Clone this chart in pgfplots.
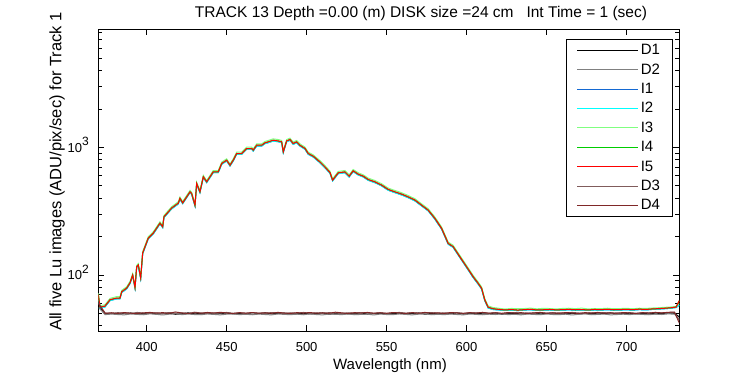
\documentclass[border=0pt]{standalone}
\usepackage{fontspec}
\setmainfont{Liberation Sans}
\usepackage{pgfplots}
\pgfplotsset{compat=1.18}
\usepackage{pgfplotstable}
\definecolor{cD2}{RGB}{128,128,128}
\definecolor{cI1}{RGB}{20,105,210}
\definecolor{cI2}{RGB}{0,255,255}
\definecolor{cI3}{RGB}{128,255,128}
\definecolor{cI4}{RGB}{0,205,0}
\definecolor{cI5}{RGB}{255,0,0}
\definecolor{cD3}{RGB}{128,92,92}
\definecolor{cD4}{RGB}{128,40,40}

% I curves: lo (I1, I2), mid (I4, I5), hi (I3)
\pgfplotstableread{
nm lo mid hi
369.75 69 70 72
370.8 55.2 56 57.4
373.9 56.1 57 58.4
377.1 63 64 65.6
381.25 65 66 67.7
383.3 65 66 67.7
384.4 72.9 74 75.8
387.5 77.8 79 81
389.6 85.7 87 89.2
391.25 98.5 100 102.5
392.7 78.8 80 82
393.75 114.3 116 118.9
394.75 118.2 120 123
396.25 93.6 95 97.4
397.5 146.8 149 152.7
401 192.1 195 199.9
404.1 209.8 213 218.3
408.3 251.2 255 261.4
410 235.4 239 245
410.8 281.7 286 293.2
415.6 330 335 343.4
419.75 360.5 366 375.2
420.8 393 399 409
422.5 362.5 368 377.2
425 403.9 410 420.3
427.1 442.3 449 460.2
428.1 429.5 436 446.9
430.2 347.7 353 361.8
431.25 514.2 522 535
433.3 442.3 449 460.2
435.4 580.2 589 603.7
437.5 529.9 538 551.5
439.6 580.2 589 603.7
441.6 634.3 644 660.1
444.75 634.3 644 660.1
446.9 738.8 750 768.8
450 783.1 795 814.9
452.1 715.1 726 744.2
454.1 783.1 795 814.9
456.25 883.5 897 919.4
459.4 883.5 897 919.4
462.5 967.3 982 1006.6
465.6 967.3 982 1006.6
466.6 937.7 952 975.8
468.75 1026.4 1042 1068
471.9 1026.4 1042 1068
473.9 1070.7 1087 1114.2
476 1090.4 1107 1134.7
479.1 1122.9 1140 1168.5
482.25 1109.1 1126 1154.2
484.4 1090.4 1107 1134.7
485.4 910.1 924 947.1
487.5 1109.1 1126 1154.2
489.6 1137.7 1155 1183.9
491.6 1057.9 1074 1100.9
493.75 1090.4 1107 1134.7
495.8 1026.4 1042 1068
499 967.3 982 1006.6
501 883.5 897 919.4
504.1 842.2 855 876.4
508.3 759.4 771 790.3
511.4 694.4 705 722.6
514.6 627.4 637 652.9
516.25 546.7 555 568.9
519.75 623.5 633 648.8
523.9 634.3 644 660.1
526.6 587.1 596 610.9
529.1 646.2 656 672.4
532.25 608.7 618 633.5
535.4 587.1 596 610.9
538.5 552.6 561 575
542.7 529.9 538 551.5
546.9 499.4 507 519.7
551 462 469 480.7
555.2 442.3 449 460.2
559.4 424.5 431 441.8
563.5 403.9 410 420.3
567.7 381.2 387 396.7
571.9 347.7 353 361.8
576 318.2 323 331.1
580.2 273.8 278 285
584.4 228.5 232 237.8
588.5 174.3 177 181.4
591.6 164.5 167 171.2
595.8 136.9 139 142.5
600 114.3 116 118.9
604.1 95.5 97 99.4
607.25 84.7 86 88.2
609.4 77.5 78.7 80.7
611.4 62.7 63.7 65.3
613.5 55.1 55.9 57.3
616.6 53.6 54.4 55.6
620 53.2 53.8 54.9
624 52.7 53.2 54.1
628 53.0 53.6 54.7
632 52.6 53.1 54.4
636 53.1 53.5 54.6
640 53.3 53.9 55.0
644 52.7 53.2 54.3
648 52.9 53.4 54.8
652 53.2 53.7 54.6
656 52.8 53.3 54.2
660 53.0 53.5 54.7
664 53.3 53.8 54.9
668 52.9 53.4 54.5
672 53.1 53.6 55.0
676 52.7 53.2 54.2
680 53.2 53.7 54.6
684 53.0 53.5 54.5
688 53.4 53.9 54.9
692 52.9 53.4 54.4
696 53.1 53.6 54.6
700 53.3 53.8 54.8
704 53.0 53.5 54.4
708 53.5 54.0 54.9
712 53.2 53.7 54.7
716 53.7 54.2 55.1
720 54.0 54.5 55.4
724 54.4 54.9 55.8
728 54.9 55.4 56.2
731 55.6 56.1 56.8
733 58 63 60
}\Itab

\pgfplotstableread{
nm D1 D2 D3 D4
370 57.0 55.5 60.0 59.0
374 49.6 48.9 50.4 50.1
378 50.2 49.4 49.9 50.6
382 49.3 49.0 50.7 50.0
386 49.9 48.7 50.1 50.8
390 50.4 49.5 49.8 50.2
394 49.5 49.1 50.9 49.9
398 49.8 48.8 50.3 50.5
402 50.6 49.6 50.0 50.9
406 49.4 49.2 50.6 50.3
410 49.9 48.6 49.7 50.7
414 50.3 49.3 50.8 50.1
418 49.2 49.7 50.2 51.3
422 49.7 48.9 50.5 50.4
426 50.5 49.4 49.9 50.0
430 49.6 49.0 51.1 50.6
434 49.9 48.8 50.4 50.2
438 50.2 49.5 50.0 50.9
442 49.4 49.1 50.6 50.3
446 49.8 48.7 50.2 51.0
450 50.4 49.3 50.9 50.4
454 49.5 49.6 50.1 50.0
458 49.9 48.9 50.5 50.7
462 50.1 49.2 49.8 50.3
466 49.3 48.8 50.7 50.8
470 49.8 49.4 50.3 50.2
474 50.5 49.0 50.0 50.6
478 49.6 48.7 50.8 50.1
482 49.9 49.5 50.4 50.9
486 50.3 49.1 49.9 50.4
490 49.4 48.9 50.6 50.0
494 49.7 49.3 50.2 50.7
498 50.2 48.8 50.9 50.3
502 49.5 49.6 50.1 50.8
506 49.9 49.0 50.5 50.2
510 50.4 48.7 50.0 50.6
514 49.3 49.4 50.7 50.1
518 49.8 49.2 50.3 51.1
522 50.1 48.9 49.9 50.5
526 49.6 49.5 50.6 50.0
530 49.9 48.8 50.2 50.7
534 50.5 49.1 50.8 50.3
538 49.4 49.3 50.4 50.9
542 49.8 48.6 50.1 50.2
546 50.2 49.4 50.7 50.6
550 49.5 49.0 50.0 50.1
554 49.9 48.9 50.5 50.8
558 50.3 49.5 50.9 50.4
562 49.6 49.1 50.3 50.0
566 49.8 48.7 50.6 50.7
570 50.4 49.3 49.9 50.3
574 49.3 49.6 50.4 50.9
578 49.9 48.8 50.8 50.2
582 50.1 49.2 50.1 50.6
586 49.5 48.9 50.5 50.0
590 49.8 49.4 50.2 50.8
594 50.5 49.0 50.7 50.4
598 49.4 48.7 50.0 50.1
602 49.9 49.5 50.6 50.7
606 50.2 49.1 50.3 50.3
610 49.6 48.8 50.9 50.9
614 49.7 49.3 50.2 50.2
618 50.4 49.0 50.6 50.6
622 49.3 49.6 50.0 50.1
626 49.9 48.9 50.4 50.8
630 50.1 49.2 50.8 50.3
634 49.5 48.7 50.1 50.7
638 49.8 49.4 50.5 50.0
642 50.3 49.1 49.9 50.5
646 49.6 48.8 50.7 50.9
650 49.9 49.5 50.3 50.2
654 50.4 49.0 50.0 50.6
658 49.4 48.9 50.6 50.1
662 49.8 49.3 50.2 50.8
666 50.2 48.6 50.9 50.4
670 49.5 49.2 50.4 50.0
674 49.9 49.6 50.1 50.7
678 50.1 48.8 50.6 50.3
682 49.6 49.1 50.3 50.9
686 49.8 49.4 50.8 50.2
690 50.5 48.7 50.0 50.6
694 49.3 49.0 50.5 50.1
698 49.9 49.3 50.2 50.8
702 50.2 48.9 50.7 50.4
706 49.5 49.5 50.1 50.0
710 49.8 49.1 50.6 50.7
714 50.3 48.8 50.3 50.3
718 49.6 49.4 50.9 50.9
722 49.9 49.0 50.4 50.5
726 50.4 49.6 50.8 51.0
730 50.1 49.3 51.0 51.2
733 47.0 45.0 44.0 42.0
}\Dtab

\newcommand{\supnum}[1]{\raisebox{6.5pt}{\fontsize{12}{12}\selectfont #1}}

\begin{document}
\begin{tikzpicture}
\useasboundingbox (-98.3pt,-44pt) rectangle (651.7pt,331pt);
\begin{axis}[
  at={(0pt,0pt)}, anchor=south west,
  scale only axis, width=581pt, height=301.7pt,
  xmin=369.75, xmax=733,
  ymode=log, ymin=36.4, ymax=8450,
  xtick={400,450,500,550,600,650,700},
  xticklabels={400,450,500,550,600,650,700},
  ytick={100,1000},
  yticklabels={10\supnum{2},10\supnum{3}},
  minor ytick={40,50,60,70,80,90,200,300,400,500,600,700,800,900,2000,3000,4000,5000,6000,7000,8000},
  tick align=inside,
  major tick length=6pt, minor tick length=4pt,
  every tick/.style={black, line width=0.8pt},
  axis line style={black, line width=0.8pt},
  xticklabel style={font=\fontsize{13}{15}\selectfont, yshift=-8pt},
  yticklabel style={font=\fontsize{13}{15}\selectfont, anchor=base east, yshift=-4.6pt, xshift=-6pt},
  title={TRACK 13 Depth =0.00 (m) DISK size =24 cm\ \ \ Int Time = 1 (sec)},
  title style={font=\fontsize{15.5}{17}\selectfont, at={(axis description cs:0.5554,1.031)}, anchor=center, inner sep=0pt},
  xlabel={Wavelength (nm)},
  xlabel style={font=\fontsize{15}{17}\selectfont, at={(axis description cs:0.502,-0.114)}, anchor=center, inner sep=0pt},
  ylabel={All five Lu images (ADU/pix/sec) for Track 1},
  ylabel style={font=\fontsize{16.5}{18}\selectfont, at={(axis description cs:-0.0711,0.5287)}, anchor=center, inner sep=0pt},
  legend style={at={(0.988,0.968)}, anchor=north east, line width=0.8pt, fill=white,
    font=\fontsize{15}{17}\selectfont, inner xsep=10pt, inner ysep=3pt, row sep=3.5pt,
    cells={anchor=west}},
  legend image code/.code={\draw[#1, line width=1pt] (0pt,0pt) -- (61pt,0pt);},
  every axis plot/.append style={line width=1pt},
]
\addplot[color=black] table[x=nm, y=D1] {\Dtab};
\addplot[color=cD2] table[x=nm, y=D2] {\Dtab};
\addplot[color=cI1] table[x=nm, y=lo] {\Itab};
\addplot[color=cI2] table[x=nm, y=lo] {\Itab};
\addplot[color=cI3] table[x=nm, y=hi] {\Itab};
\addplot[color=cI4] table[x=nm, y=mid] {\Itab};
\addplot[color=cI5] table[x=nm, y=mid] {\Itab};
\addplot[color=cD3] table[x=nm, y=D3] {\Dtab};
\addplot[color=cD4] table[x=nm, y=D4] {\Dtab};
\legend{D1,D2,I1,I2,I3,I4,I5,D3,D4}
\end{axis}
\end{tikzpicture}
\end{document}
